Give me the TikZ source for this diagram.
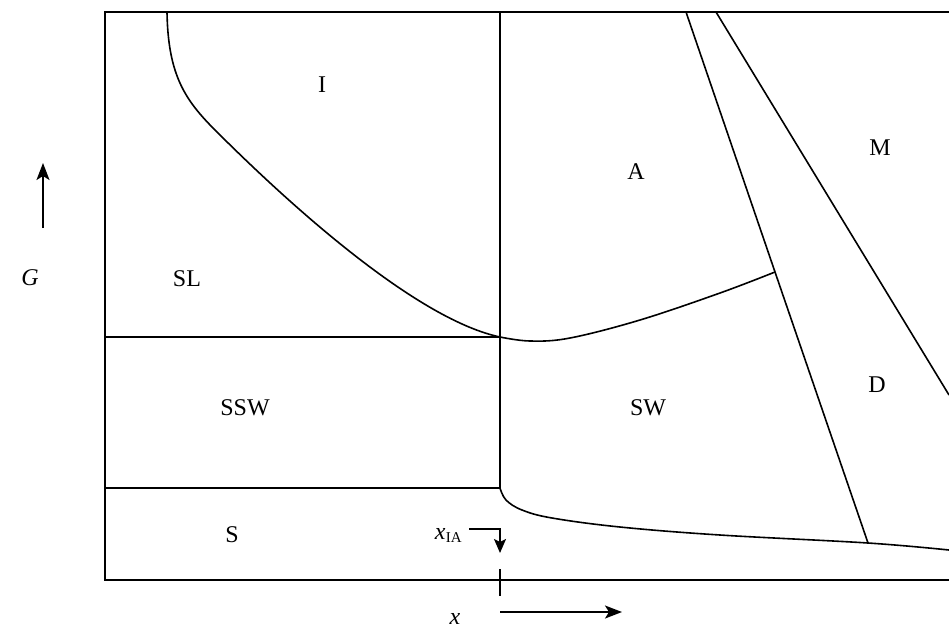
\documentclass[tikz,border=0pt]{standalone}
\usepackage{fontspec}
\setmainfont{Liberation Serif}
\usetikzlibrary{arrows.meta}
\begin{document}
\begin{tikzpicture}[x=1pt,y=-1pt,
  frame/.style={line width=2pt},
  bound/.style={line width=1.6pt},
  lab/.style={font=\fontsize{24}{26}\selectfont, inner sep=0pt},
  axarrow/.style={line width=1.8pt, -{Stealth[length=17pt,width=13pt,inset=4pt]}}]
\useasboundingbox (0,0) rectangle (949,630);
% key points
\coordinate (tl) at (105,12);
\coordinate (tr) at (949,12);
\coordinate (bl) at (105,580);
\coordinate (br) at (949,580);
\coordinate (c) at (500,337);
\coordinate (d) at (500,488);
\coordinate (vt) at (500,12);
\coordinate (l1) at (105,337);
\coordinate (l2) at (105,488);
\coordinate (ia) at (167,12);
\coordinate (bend) at (215,130);
\coordinate (am) at (686,12);
\coordinate (md) at (716,12);
\coordinate (tp) at (775,272);
\coordinate (bp) at (868,543);
\coordinate (mr) at (949,395);
% frame
\draw[frame] (tr) -- (tl) -- (bl) -- (br);
% straight boundaries
\draw[bound] (vt) -- (d);
\draw[bound] (l1) -- (c);
\draw[bound] (l2) -- (d);
\draw[bound] (am) -- (tp) -- (bp);
\draw[bound] (md) -- (mr);
% curved boundaries
\draw[bound] (ia) .. controls (168,75) and (185,100) .. (bend)
  .. controls (300,215) and (420,320) .. (c);
\draw[bound] plot[smooth, tension=0.6] coordinates {(500,337) (530,341) (570,338) (640,320) (720,293) (775,272)};
\draw[bound] plot[smooth, tension=0.6] coordinates {(500,488) (506,500) (522,510) (552,518) (620,527) (720,535) (868,543) (949,550)};
% region labels
\node[lab] (nI) at (322,85) {I};
\node[lab] (nA) at (636,172) {A};
\node[lab] (nM) at (880,148) {M};
\node[lab] (nSL) at (187,279) {SL};
\node[lab] (nSSW) at (245,408) {SSW};
\node[lab] (nSW) at (648,408) {SW};
\node[lab] (nD) at (877,385) {D};
\node[lab] (nS) at (232,535) {S};
% axes
\node[lab] (nG) at (30,278) {\itshape G};
\coordinate (ga) at (43,228);
\coordinate (gb) at (43,163);
\draw[axarrow] (ga) -- (gb);
\node[lab] (nx) at (455,619) {\itshape x};
\coordinate (xa) at (500,612);
\coordinate (xb) at (622,612);
\draw[axarrow] (xa) -- (xb);
% x_IA marker
\node[lab, anchor=east] (nxia) at (462,535) {\itshape x\kern0.5pt\raisebox{-3pt}{\upshape\fontsize{15}{17}\selectfont IA}};
\coordinate (ka) at (469,529);
\coordinate (kb) at (500,529);
\coordinate (kc) at (500,553);
\draw[line width=1.8pt, -{Stealth[length=14pt,width=12pt,inset=3pt]}] (ka) -- (kb) -- (kc);
\coordinate (t1) at (500,569);
\coordinate (t2) at (500,596);
\draw[line width=1.6pt] (t1) -- (t2);
\end{tikzpicture}
\end{document}
